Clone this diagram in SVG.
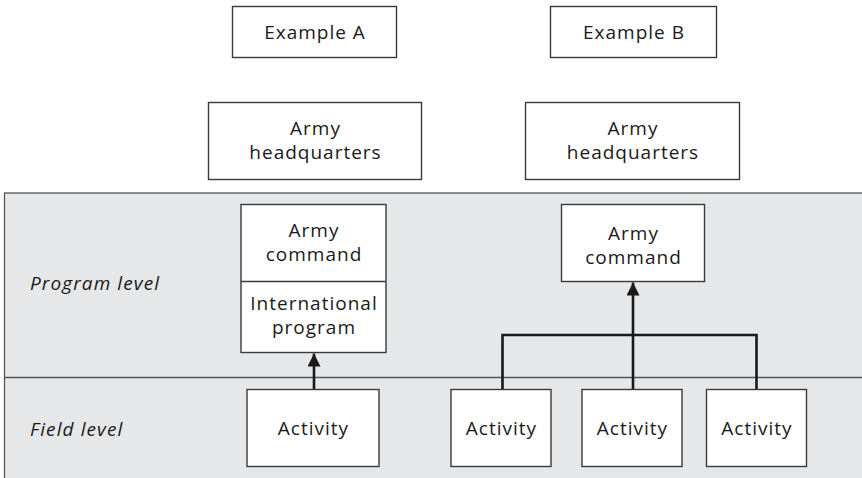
<svg xmlns="http://www.w3.org/2000/svg" width="862" height="478" viewBox="0 0 862 478">
<defs>
<style>
.box{fill:#fff;stroke:#3a3a3a;stroke-width:1.4}
.t{font-family:"Open Sans","Noto Sans",sans-serif;font-size:19px;letter-spacing:1px;fill:#1a1a1a;text-anchor:middle}
.lbl{font-family:"Open Sans","Noto Sans",sans-serif;font-size:19px;letter-spacing:1.1px;font-style:italic;fill:#1a1a1a}
.c{fill:none;stroke:#1a1a1a;stroke-width:2.6}
</style>
<marker id="ah" viewBox="0 0 10 10" refX="10" refY="5" markerWidth="5" markerHeight="5" markerUnits="strokeWidth" orient="auto">
<path d="M0,0 L10,5 L0,10 z" fill="#1a1a1a"/>
</marker>
</defs>
<rect width="862" height="478" fill="#fff"/>
<g id="panel">
<rect x="4.5" y="193" width="870" height="300" fill="#e6e7e9" stroke="#555" stroke-width="1.3"/>
<line x1="4.5" y1="377.5" x2="862" y2="377.5" stroke="#555" stroke-width="1.3"/>
<text class="lbl" x="30" y="290">Program level</text>
<text class="lbl" x="30" y="436">Field level</text>
</g>
<g id="exA"><rect class="box" x="232.5" y="6.5" width="164" height="51"/><text class="t" x="315" y="39">Example A</text></g>
<g id="exB"><rect class="box" x="550.5" y="6.5" width="166" height="51"/><text class="t" x="634" y="39">Example B</text></g>
<g id="hqA"><rect class="box" x="208.5" y="102.5" width="213" height="77"/><text class="t" x="315.5" y="135">Army</text><text class="t" x="315.5" y="159">headquarters</text></g>
<g id="hqB"><rect class="box" x="525.5" y="102.5" width="214" height="77"/><text class="t" x="633" y="135">Army</text><text class="t" x="633" y="159">headquarters</text></g>
<g id="cmdA"><rect class="box" x="241" y="204.5" width="145" height="148"/><line x1="241" y1="281.5" x2="386" y2="281.5" stroke="#3a3a3a" stroke-width="1.4"/>
<text class="t" x="314" y="237">Army</text><text class="t" x="314" y="261">command</text>
<text class="t" x="314" y="310">International</text><text class="t" x="314" y="334">program</text></g>
<g id="cmdB"><rect class="box" x="561.5" y="204.5" width="143" height="77"/><text class="t" x="633.5" y="239.5">Army</text><text class="t" x="633.5" y="263.5">command</text></g>
<g id="actA"><rect class="box" x="247" y="389.5" width="132" height="77"/><text class="t" x="313.5" y="435">Activity</text></g>
<g id="actB1"><rect class="box" x="451" y="389.5" width="100" height="77"/><text class="t" x="501.5" y="435">Activity</text></g>
<g id="actB2"><rect class="box" x="582" y="389.5" width="100" height="77"/><text class="t" x="632.5" y="435">Activity</text></g>
<g id="actB3"><rect class="box" x="706.5" y="389.5" width="100" height="77"/><text class="t" x="757" y="435">Activity</text></g>
<g id="connectors">
<line class="c" x1="314" y1="389" x2="314" y2="353.5" marker-end="url(#ah)"/>
<polyline class="c" points="502.5,389 502.5,335 756.5,335 756.5,389"/>
<line class="c" x1="633" y1="389" x2="633" y2="282.5" marker-end="url(#ah)"/>
</g>
</svg>
